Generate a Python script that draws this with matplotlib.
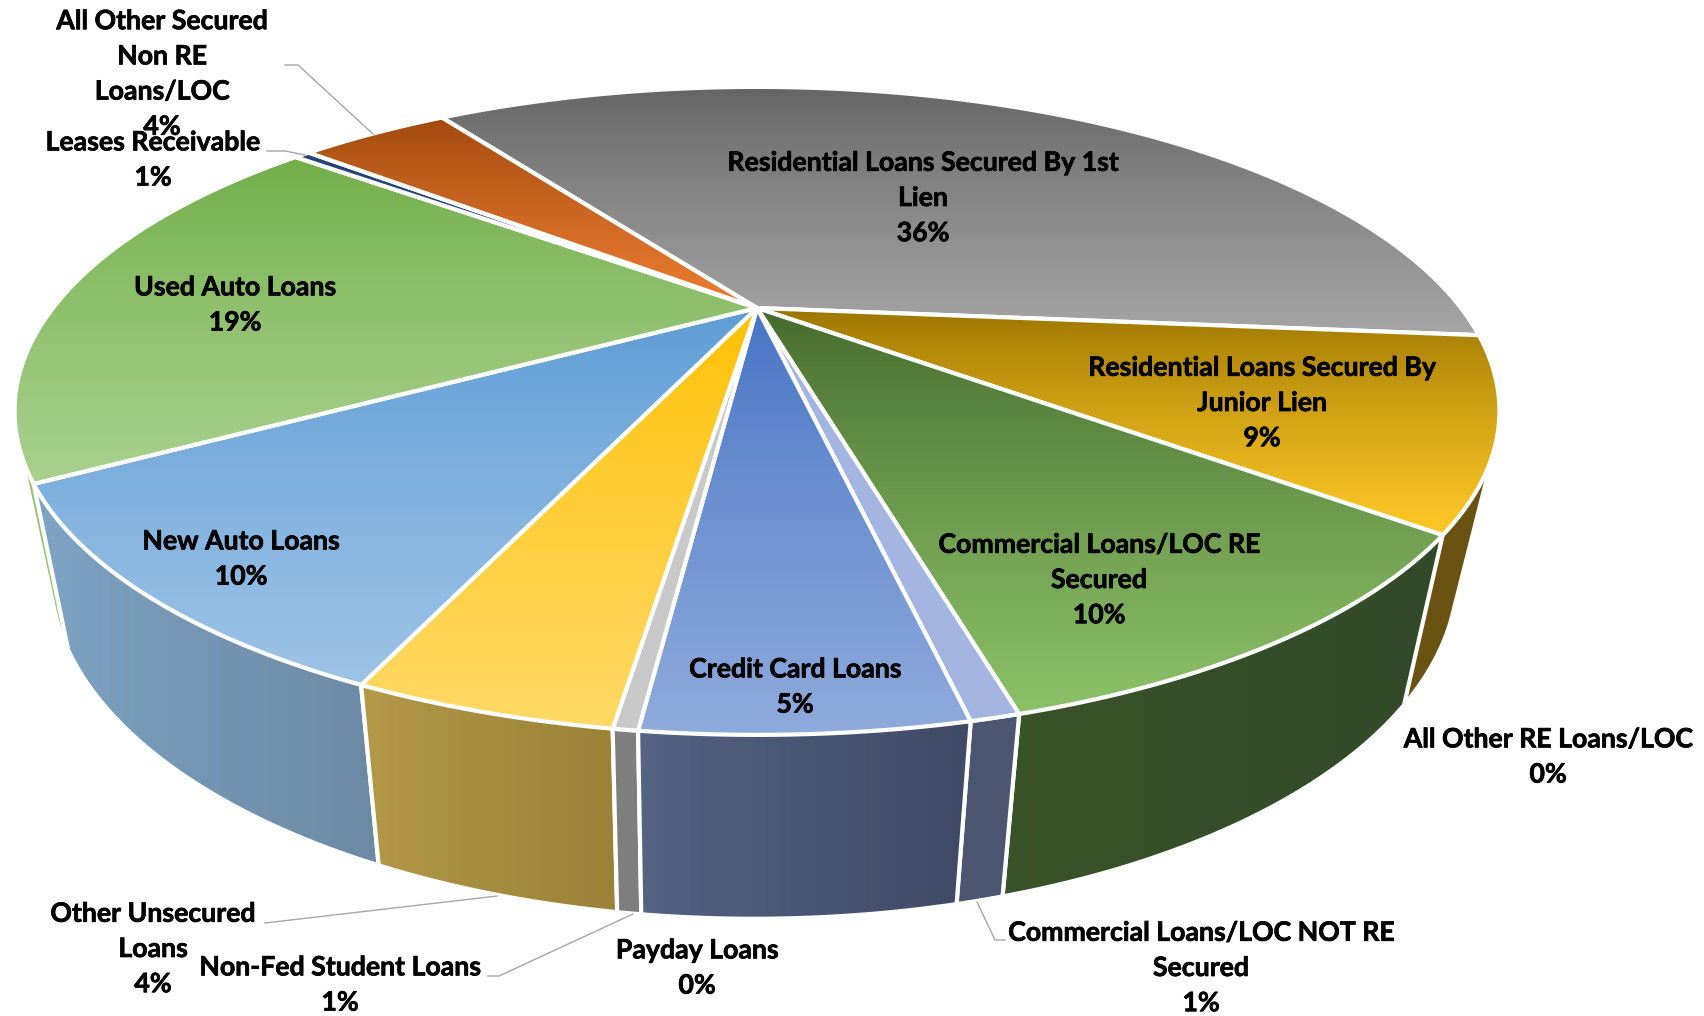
import numpy as np
import matplotlib.pyplot as plt
import matplotlib.patheffects as pe
from matplotlib.colors import LinearSegmentedColormap
from matplotlib.patches import Polygon

plt.rcParams['font.family'] = ['Lato', 'DejaVu Sans']

# slices clockwise, starting from the back of the pie
categories = ['Residential Loans Secured By 1st\nLien',
              'Residential Loans Secured By\nJunior Lien',
              'All Other RE Loans/LOC',
              'Commercial Loans/LOC RE\nSecured',
              'Commercial Loans/LOC NOT RE\nSecured',
              'Credit Card Loans',
              'Payday Loans',
              'Non-Fed Student Loans',
              'Other Unsecured\nLoans',
              'New Auto Loans',
              'Used Auto Loans',
              'Leases Receivable',
              'All Other Secured\nNon RE\nLoans/LOC']
values = [36.0, 9.3, 0.0, 10.1, 0.8, 5.2, 0.0, 0.4, 4.28, 10.02, 19.1, 0.45, 4.35]
pct_labels = ['36%', '9%', '0%', '10%', '1%', '5%', '0%', '1%', '4%', '10%', '19%', '1%', '4%']

top_from = ['#636363', '#997300', '#636363', '#43682b', '#a3b5e0', '#4472c4', '#c00000',
            '#c9c9c9', '#ffc000', '#5b9bd5', '#70ad47', '#264478', '#9e480e']
top_to = ['#a5a5a5', '#ffc926', '#a5a5a5', '#8cc168', '#a3b5e0', '#8faadc', '#c00000',
          '#c9c9c9', '#ffd966', '#9dc3e6', '#a9d18e', '#264478', '#ed7d31']
side_from = ['#636363', '#6a5212', '#636363', '#3a5428', '#4c5670', '#566584', '#c00000',
             '#7f7f7f', '#b49a48', '#7fa5c6', '#9cc37e', '#264478', '#9e480e']
side_to = ['#636363', '#6a5212', '#636363', '#324a2a', '#4c5670', '#3f4a66', '#c00000',
           '#7f7f7f', '#9c8238', '#6c8aa5', '#9cc37e', '#264478', '#9e480e']

label_x = [923, 1262, 1548, 1099, 1201, 795, 697, 340, 153, 241, 235, 153, 162]
label_y = [198, 403, 757, 580, 968, 687, 968, 985, 949, 559, 305, 160, 74]

# leader lines, in pixels of the picture
leaders = [([285, 298, 373], [65, 65, 134]),
           ([267, 285, 305], [151, 151, 155]),
           ([265, 497], [923, 896]),
           ([488, 499, 633], [976, 976, 914]),
           ([1005, 995, 977], [940, 940, 902])]

START_ANGLE = -34.4
CX, CY = 757, 308


def project(phi):
    # perspective view of the round top face, phi clockwise from the back
    x = np.sin(phi)
    y = -np.cos(phi)
    den = 1 - 0.3176 * y
    return 704 * x / den, 291.3 * y / den


def top_arc(a0, a1):
    u, v = project(np.linspace(a0, a1, 120))
    return np.column_stack([CX + u, CY + v])


def bottom_arc(a0, a1):
    u, v = project(np.linspace(a0, a1, 120))
    return np.column_stack([CX - 3 + 0.948 * u, CY + 1.07 * v + 154])


def hull(pts):
    # monotone chain, so a wall follows the silhouette of the extruded pie
    pts = sorted(map(tuple, pts))

    def half(seq):
        out = []
        for p in seq:
            while len(out) > 1:
                a, b = out[-2], out[-1]
                if (b[0] - a[0]) * (p[1] - a[1]) - (b[1] - a[1]) * (p[0] - a[0]) > 0:
                    break
                out.pop()
            out.append(p)
        return out[:-1]

    return np.array(half(pts) + half(pts[::-1]))


def fill_gradient(ax, pts, c0, c1, vertical, zorder):
    poly = Polygon(pts, closed=True, transform=ax.transData, facecolor='none',
                   edgecolor='white', linewidth=3.0, joinstyle='round', zorder=zorder + 0.005)
    ax.add_patch(poly)
    cmap = LinearSegmentedColormap.from_list('g', [c0, c1])
    ramp = np.linspace(0, 1, 256) ** 0.8
    ramp = ramp[:, None] if vertical else ramp[None, :]
    x0, y0 = pts.min(axis=0)
    x1, y1 = pts.max(axis=0)
    im = ax.imshow(ramp, cmap=cmap, extent=(x0, x1, y1, y0), aspect='auto',
                   interpolation='bilinear', zorder=zorder)
    im.set_clip_path(poly)


fig = plt.figure(figsize=(17.04, 10.16), dpi=100)
ax = fig.add_axes([0, 0, 1, 1])

edges = np.radians(START_ANGLE + np.cumsum([0] + values) * 3.6)

# side walls first, the ones nearest the front go on top
order = np.argsort(-np.abs(np.degrees((edges[:-1] + edges[1:]) / 2) - 180))
for rank, i in enumerate(order):
    if values[i] == 0:
        continue
    wall = hull(np.vstack([top_arc(edges[i], edges[i + 1]),
                           bottom_arc(edges[i], edges[i + 1])]))
    fill_gradient(ax, wall, side_from[i], side_to[i], False, 2 + rank * 0.01)

for i, v in enumerate(values):
    if v == 0:
        continue
    wedge = np.vstack([[CX, CY], top_arc(edges[i], edges[i + 1])])
    fill_gradient(ax, wedge, top_from[i], top_to[i], True, 4 + i * 0.01)

for lx, ly in leaders:
    ax.plot(lx, ly, color='#a6a6a6', lw=1.0, zorder=6)

for name, pct, x, y in zip(categories, pct_labels, label_x, label_y):
    ax.text(x, y, name + '\n' + pct, ha='center', va='center', fontsize=19.2,
            fontweight='bold', color='black', linespacing=1.56, zorder=7,
            path_effects=[pe.withStroke(linewidth=0.5, foreground='black')])

ax.set_xlim(0, 1704)
ax.set_ylim(1016, 0)
ax.axis('off')

fig.savefig('out.png', dpi=100, facecolor='white')
